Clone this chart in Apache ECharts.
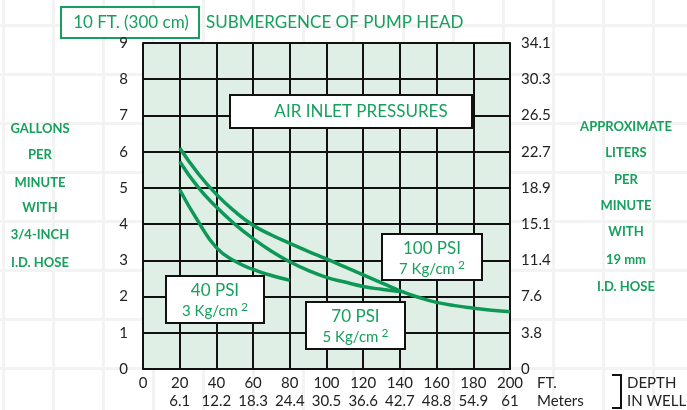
<!DOCTYPE html>
<html>
<head>
<meta charset="utf-8">
<script src="https://cdn.jsdelivr.net/npm/echarts@6/dist/echarts.min.js"></script>
<style>
  html, body {
    margin: 0;
    padding: 0;
  }
  body {
    background-color: #fff;
    background-image:
      linear-gradient(to right, #f3f3f3 3px, transparent 3px),
      linear-gradient(to bottom, #f3f3f3 3px, transparent 3px);
    background-size: 50px 49px;
    background-position: 2px 24px;
  }
  #chart {
    width: 687px;
    height: 410px;
  }
</style>
</head>
<body>
<div id="chart"></div>
<script>
  // depth in well (ft) and the matching meters row
  const depthFt = [20, 30, 40, 50, 60, 70, 80, 90, 100, 110, 120, 130, 140, 150, 160, 170, 180, 190, 200];
  const meterLabels = ["", "6.1", "12.2", "18.3", "24.4", "30.5", "36.6", "42.7", "48.8", "54.9", "61"];
  const literLabels = ["0", "3.8", "7.6", "11.4", "15.1", "18.9", "22.7", "26.5", "30.3", "34.1"];

  // gallons per minute
  const psi100 = [6.1, 5.4, 4.82, 4.35, 3.97, 3.7, 3.47, 3.25, 3.04, 2.82, 2.6, 2.38, 2.16, 1.98, 1.84, 1.75, 1.68, 1.62, 1.58];
  const psi70 = [5.73, 5.02, 4.47, 4.0, 3.6, 3.25, 2.96, 2.72, 2.53, 2.4, 2.28, 2.2, 2.14];
  const psi40 = [4.95, 4.08, 3.35, 2.98, 2.75, 2.58, 2.45];

  const green = "#17a05d";
  const lineGreen = "#0e9858";
  const font = "Lato";

  function pairs(vals) {
    return vals.map((v, i) => [depthFt[i], v]);
  }

  function curve(name, vals) {
    return {
      name: name,
      type: "line",
      smooth: true,
      symbol: "none",
      data: pairs(vals),
      lineStyle: { color: lineGreen, width: 3.5 },
      z: 3
    };
  }

  function box(x, y, w, h) {
    return {
      type: "rect",
      z: 100,
      shape: { x: x, y: y, width: w, height: h },
      style: { fill: "#fff", stroke: "#111", lineWidth: 2 }
    };
  }

  function label(x, y, w, h, line1, line2) {
    return [box(x, y, w, h),
      {
        type: "text",
        z: 101,
        x: x + w / 2,
        y: y + 15,
        style: { text: line1, fill: green, font: "17px " + font, align: "center", verticalAlign: "middle" }
      },
      {
        type: "text",
        z: 101,
        x: x + w / 2,
        y: y + 35,
        style: {
          text: "{a|" + line2 + "}{s|2}",
          align: "center",
          verticalAlign: "middle",
          rich: {
            a: { fill: green, fontSize: 15, fontFamily: font },
            s: { fill: green, fontSize: 12, fontFamily: font, padding: [0, 0, 8, 3] }
          }
        }
      }
    ];
  }

  function sideText(x, ys, lines) {
    return lines.map((t, i) => ({
      type: "text",
      x: x,
      y: ys[i],
      style: { text: t, fill: green, font: "bold 13px " + font, align: "center", verticalAlign: "middle" }
    }));
  }

  const chart = echarts.init(document.getElementById("chart"));

  const option = {
    animation: false,
    grid: {
      left: 143,
      right: 177,
      top: 43,
      bottom: 40,
      show: true,
      backgroundColor: "#e0efe6",
      borderWidth: 0
    },
    xAxis: {
      type: "value",
      min: 0,
      max: 200,
      interval: 20,
      axisLine: { show: true, onZero: false, lineStyle: { color: "#111", width: 2 } },
      axisTick: { show: false },
      splitLine: { show: true, lineStyle: { color: "#111", width: 2 } },
      axisLabel: {
        margin: 5,
        color: "#222",
        fontSize: 15,
        fontFamily: font,
        lineHeight: 18,
        formatter: function (v) {
          if (v === 0) return "0\n ";
          return v + "\n" + meterLabels[v / 20];
        }
      }
    },
    yAxis: [{
        type: "value",
        min: 0,
        max: 9,
        interval: 1,
        axisLine: { show: true, lineStyle: { color: "#111", width: 2 } },
        axisTick: { show: false },
        splitLine: { show: true, lineStyle: { color: "#111", width: 2 } },
        axisLabel: { margin: 15, color: "#222", fontSize: 15, fontFamily: font }
      },
      {
        type: "value",
        min: 0,
        max: 9,
        interval: 1,
        position: "right",
        axisLine: { show: true, lineStyle: { color: "#111", width: 2 } },
        axisTick: { show: false },
        splitLine: { show: false },
        axisLabel: {
          margin: 11,
          color: "#222",
          fontSize: 15,
          fontFamily: font,
          formatter: function (v) {
            return literLabels[v];
          }
        }
      }
    ],
    series: [
      curve("100 PSI", psi100),
      curve("70 PSI", psi70),
      curve("40 PSI", psi40)
    ],
    graphic: [
      {
        type: "rect",
        shape: { x: 61, y: 7, width: 138, height: 31 },
        style: { fill: "#fff", stroke: green, lineWidth: 2 }
      },
      {
        type: "text",
        x: 131,
        y: 23,
        style: { text: "10 FT. (300 cm)", fill: green, font: "17px " + font, align: "center", verticalAlign: "middle" }
      },
      {
        type: "text",
        x: 206,
        y: 23,
        style: { text: "SUBMERGENCE OF PUMP HEAD", fill: green, font: "17px " + font, verticalAlign: "middle" }
      },
      box(230, 95, 242, 33),
      {
        type: "text",
        z: 101,
        x: 361,
        y: 112,
        style: { text: "AIR INLET PRESSURES", fill: green, font: "17px " + font, align: "center", verticalAlign: "middle" }
      },
      ...label(166, 276, 98, 47, "40 PSI", "3 Kg/cm"),
      ...label(306, 302, 99, 47, "70 PSI", "5 Kg/cm"),
      ...label(382, 234, 100, 46, "100 PSI", "7 Kg/cm"),
      ...sideText(40, [129, 155, 183, 208, 235, 263],
        ["GALLONS", "PER", "MINUTE", "WITH", "3/4-INCH", "I.D. HOSE"]),
      ...sideText(626, [127, 153, 180, 206, 232, 260, 287],
        ["APPROXIMATE", "LITERS", "PER", "MINUTE", "WITH", "19 mm", "I.D. HOSE"]),
      {
        type: "text",
        x: 537,
        y: 383,
        style: { text: "FT.", fill: "#222", font: "15px " + font, verticalAlign: "middle" }
      },
      {
        type: "text",
        x: 537,
        y: 401,
        style: { text: "Meters", fill: "#222", font: "15px " + font, verticalAlign: "middle" }
      },
      {
        type: "polyline",
        shape: { points: [[612, 375], [621, 375], [621, 408], [612, 408]] },
        style: { stroke: "#111", lineWidth: 2, fill: null }
      },
      {
        type: "text",
        x: 627,
        y: 383,
        style: { text: "DEPTH", fill: "#222", font: "15px " + font, verticalAlign: "middle" }
      },
      {
        type: "text",
        x: 627,
        y: 401,
        style: { text: "IN WELL", fill: "#222", font: "15px " + font, verticalAlign: "middle" }
      }
    ]
  };

  chart.setOption(option);

  window.addEventListener("resize", function () {
    chart.resize();
  });
</script>
</body>
</html>
